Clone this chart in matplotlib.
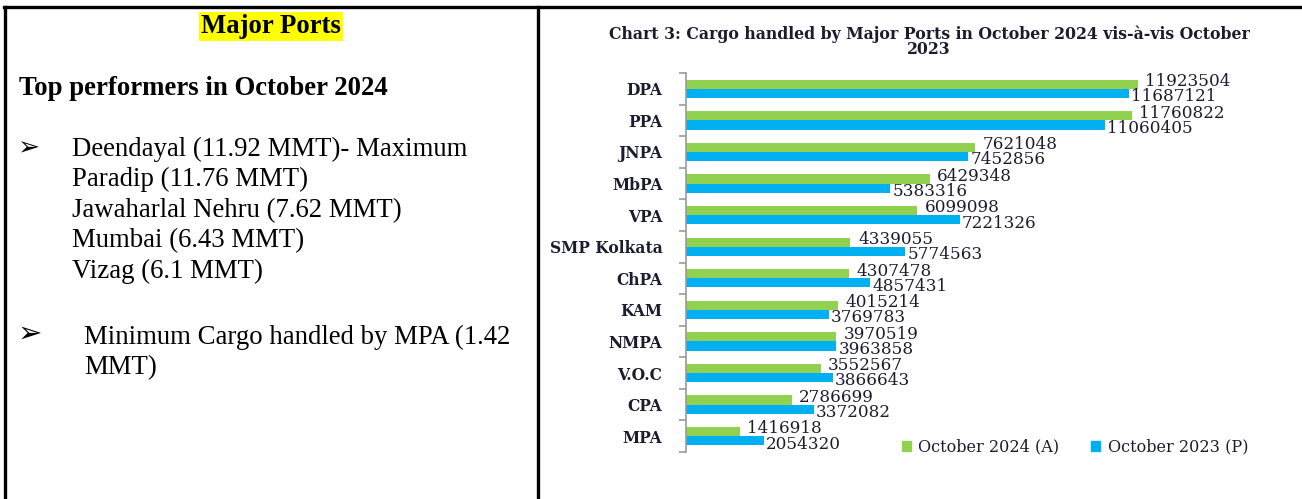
import matplotlib.pyplot as plt
from matplotlib.lines import Line2D
from matplotlib.patches import Patch

ports = ["DPA", "PPA", "JNPA", "MbPA", "VPA", "SMP Kolkata", "ChPA", "KAM",
         "NMPA", "V.O.C", "CPA", "MPA"]
oct_2024 = [11923504, 11760822, 7621048, 6429348, 6099098, 4339055, 4307478,
            4015214, 3970519, 3552567, 2786699, 1416918]
oct_2023 = [11687121, 11060405, 7452856, 5383316, 7221326, 5774563, 4857431,
            3769783, 3963858, 3866643, 3372082, 2054320]

bullet_lines = ["Deendayal (11.92 MMT)- Maximum", "Paradip (11.76 MMT)",
                "Jawaharlal Nehru (7.62 MMT)", "Mumbai (6.43 MMT)", "Vizag (6.1 MMT)"]
min_lines = ["Minimum Cargo handled by MPA (1.42", "MMT)"]

W, H = 1302, 499
GREEN = "#92D050"
BLUE = "#00B0F0"
TXT = "#1c1c30"


def fx(px):
    return px / W


def fy(py):
    return 1 - py / H


fig = plt.figure(figsize=(W / 100, H / 100), dpi=100)

# table borders
fig.add_artist(Line2D([fx(4), fx(W)], [fy(7), fy(7)], color="black", lw=2.4))
fig.add_artist(Line2D([fx(5), fx(5)], [fy(7), fy(499)], color="black", lw=2.4))
fig.add_artist(Line2D([fx(538), fx(538)], [fy(7), fy(499)], color="black", lw=2.4))

serif = ["Liberation Serif", "DejaVu Serif"]
fs = 19.3

fig.text(fx(271), fy(33), "Major Ports", family=serif, fontsize=fs, weight="bold",
         ha="center", va="baseline",
         bbox=dict(facecolor="#FFFF00", edgecolor="none", pad=1.5))
fig.text(fx(19), fy(95), "Top performers in October 2024", family=serif,
         fontsize=fs, weight="bold", ha="left", va="baseline")

fig.text(fx(17), fy(155), "\u27a2", family=["DejaVu Sans"], fontsize=19,
         ha="left", va="baseline")
y = 156
for line in bullet_lines:
    fig.text(fx(72), fy(y), line, family=serif, fontsize=fs, ha="left", va="baseline")
    y += 30.5

fig.text(fx(18), fy(342), "\u27a2", family=["DejaVu Sans"], fontsize=21,
         weight="bold", ha="left", va="baseline")
y = 344
for line in min_lines:
    fig.text(fx(84), fy(y), line, family=serif, fontsize=fs, ha="left", va="baseline")
    y += 30

# chart
cserif = ["DejaVu Serif"]
fig.text(fx(929), fy(34), "Chart 3: Cargo handled by Major Ports in October 2024 vis-\u00e0-vis October",
         family=cserif, fontsize=11.3, weight="bold", color=TXT, ha="center", va="center")
fig.text(fx(929), fy(50), "2023", family=cserif, fontsize=11.3, weight="bold",
         color=TXT, ha="center", va="center")

ax_left, ax_right, ax_top, ax_bot = 686, 1290, 73, 452
ax = fig.add_axes([fx(ax_left), fy(ax_bot), fx(ax_right - ax_left),
                   (ax_bot - ax_top) / H])
scale = 37.9 / 1e6
ax.set_xlim(0, (ax_right - ax_left) / scale)
n = len(ports)
ax.set_ylim(n - 0.5, -0.5)

bh = 0.29
pos = list(range(n))
ax.barh([p - bh / 2 for p in pos], oct_2024, height=bh, color=GREEN, label="October 2024 (A)")
ax.barh([p + bh / 2 for p in pos], oct_2023, height=bh, color=BLUE, label="October 2023 (P)")

off = 0.2e6
for p, v in zip(pos, oct_2024):
    ax.text(v + off, p - 0.23, f"{v}", family=cserif, fontsize=12.2, color=TXT,
            ha="left", va="center")
for p, v in zip(pos, oct_2023):
    ax.text(v + off * 0.3, p + 0.25, f"{v}", family=cserif, fontsize=12.2, color=TXT,
            ha="left", va="center")

for s in ["top", "right", "bottom"]:
    ax.spines[s].set_visible(False)
ax.spines["left"].set_color("#9a9a9a")
ax.spines["left"].set_linewidth(1.2)
ax.set_xticks([])
ax.set_yticks(pos)
ax.set_yticklabels(ports, family=cserif, fontsize=11.2, weight="bold", color=TXT)
ax.tick_params(axis="y", which="major", length=0, pad=17)
ax.set_yticks([p - 0.5 for p in range(n + 1)], minor=True)
ax.tick_params(axis="y", which="minor", length=5, color="#9a9a9a", width=1.2)

handles = [Patch(color=GREEN), Patch(color=BLUE)]
leg = fig.legend(handles, ["October 2024 (A)", "October 2023 (P)"], ncol=2,
                 loc="center left", bbox_to_anchor=(fx(902), fy(447)),
                 frameon=False, prop=dict(family=cserif, size=11.6),
                 handlelength=0.55, handleheight=0.55, handletextpad=0.45,
                 columnspacing=2.0, borderpad=0, borderaxespad=0)
for t in leg.get_texts():
    t.set_color(TXT)

fig.savefig("out.png", dpi=100)
